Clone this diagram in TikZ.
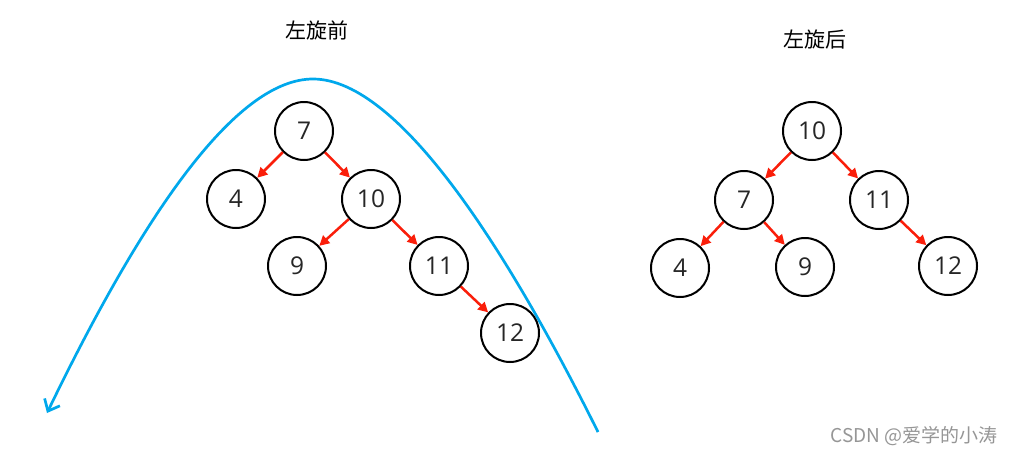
\documentclass[tikz,border=0pt]{standalone}
\usepackage{fontspec}
\setmainfont{Open Sans}
\newfontfamily\cjk{Noto Sans CJK SC}
\usetikzlibrary{arrows.meta}
\definecolor{curveblue}{RGB}{0,168,236}
\definecolor{arrred}{RGB}{250,30,10}
\definecolor{wmgray}{RGB}{150,150,150}
\begin{document}
\begin{tikzpicture}[x=1pt,y=-1pt,
  tn/.style={circle,draw=black,line width=2pt,minimum size=58pt,inner sep=0pt,font=\fontsize{24.5}{24.5}\selectfont,text=black!85},
  ed/.style={draw=arrred,line width=2.5pt,-{Triangle[length=10pt,width=10pt]}},
  ttl/.style={font=\cjk\fontsize{21}{21}\selectfont,text=black}]
\useasboundingbox (0,0) rectangle (1016,455);
\fill[white] (0,0) rectangle (1016,455);
% titles
\node[ttl] (t1) at (317,30) {左旋前};
\node[ttl] (t2) at (815,40) {左旋后};
% curve
\coordinate (cs) at (47,413);
\coordinate (cp) at (313,79);
\coordinate (ce) at (598,432);
\draw[curveblue,line width=2.7pt,{Straight Barb[length=10pt,width=17pt,line width=2.7pt]}-]
  (cs) .. controls (150,200) and (240,79) .. (cp)
       .. controls (400,79) and (510,255) .. (ce);
% left tree
\node[tn] (a7) at (304,131) {7};
\node[tn] (a4) at (236,199) {4};
\node[tn] (a10) at (371,199) {10};
\node[tn] (a9) at (297,266) {9};
\node[tn] (a11) at (439,266) {11};
\node[tn] (a12) at (510,333) {12};
\draw[ed] (a7) -- (a4);
\draw[ed] (a7) -- (a10);
\draw[ed] (a10) -- (a9);
\draw[ed] (a10) -- (a11);
\draw[ed] (a11) -- (a12);
% right tree
\node[tn] (b10) at (812,131) {10};
\node[tn] (b7) at (744,200) {7};
\node[tn] (b11) at (879,200) {11};
\node[tn] (b4) at (680,268) {4};
\node[tn] (b9) at (805,267) {9};
\node[tn] (b12) at (948,266) {12};
\draw[ed] (b10) -- (b7);
\draw[ed] (b10) -- (b11);
\draw[ed] (b7) -- (b4);
\draw[ed] (b7) -- (b9);
\draw[ed] (b11) -- (b12);
% watermark
\node[font=\cjk\fontsize{19}{19}\selectfont,text=wmgray] (wm) at (914,436) {CSDN @爱学的小涛};
\end{tikzpicture}
\end{document}
